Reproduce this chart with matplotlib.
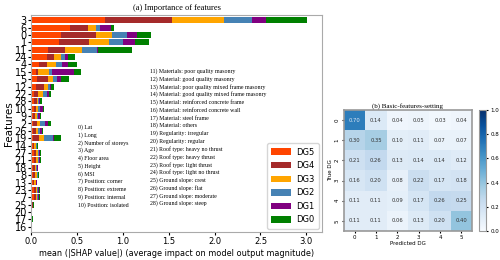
import numpy as np
import matplotlib
matplotlib.use("Agg")
import matplotlib.pyplot as plt

# feature order, top to bottom
features = ['3', '6', '0', '1', '11', '24', '4', '15', '5', '12', '22', '28', '10', '9', '2',
            '26', '19', '14', '27', '21', '18', '8', '13', '23', '7', '25', '20', '17', '16']

dg5 = [0.81, 0.43, 0.33, 0.305, 0.19, 0.17, 0.09, 0.055, 0.07, 0.057, 0.035, 0.035, 0.035, 0.025, 0.025,
       0.025, 0.02, 0.02, 0.03, 0.03, 0.025, 0.025, 0.02, 0.03, 0.03, 0.01, 0.001, 0.002, 0.002]
dg4 = [0.73, 0.19, 0.375, 0.325, 0.175, 0.08, 0.085, 0.025, 0.11, 0.08, 0.04, 0.025, 0.02, 0.02, 0.04,
       0.03, 0.07, 0.015, 0.025, 0.025, 0.015, 0.02, 0.015, 0.02, 0.02, 0.008, 0.001, 0.001, 0.001]
dg3 = [0.56, 0.09, 0.175, 0.22, 0.195, 0.075, 0.10, 0.115, 0.06, 0.05, 0.06, 0.015, 0.025, 0.02, 0.035,
       0.02, 0.055, 0.015, 0.02, 0.02, 0.015, 0.015, 0.015, 0.015, 0.015, 0.004, 0.0, 0.001, 0.001]
dg2 = [0.31, 0.04, 0.17, 0.155, 0.155, 0.05, 0.065, 0.035, 0.04, 0.015, 0.035, 0.015, 0.015, 0.015, 0.055,
       0.025, 0.09, 0.01, 0.015, 0.015, 0.01, 0.012, 0.008, 0.012, 0.012, 0.002, 0.0, 0.001, 0.003]
dg1 = [0.15, 0.12, 0.10, 0.125, 0.02, 0.025, 0.06, 0.235, 0.045, 0.02, 0.025, 0.01, 0.035, 0.02, 0.03,
       0.015, 0.02, 0.008, 0.01, 0.01, 0.007, 0.008, 0.006, 0.01, 0.01, 0.002, 0.0, 0.001, 0.001]
dg0 = [0.45, 0.03, 0.16, 0.16, 0.365, 0.075, 0.105, 0.08, 0.085, 0.03, 0.025, 0.015, 0.01, 0.01, 0.035,
       0.015, 0.075, 0.007, 0.005, 0.005, 0.005, 0.005, 0.006, 0.006, 0.006, 0.006, 0.001, 0.02, 0.001]

classes = ['DG5', 'DG4', 'DG3', 'DG2', 'DG1', 'DG0']
colors = ['#ff4500', '#a52a2a', '#ffa500', '#4682b4', '#800080', '#008000']

names_left = ['0) Lat', '1) Long', '2) Number of storeys', '3) Age', '4) Floor area', '5) Height',
              '6) MSI', '7) Position: corner', '8) Position: extreme', '9) Position: internal',
              '10) Position: isolated']
names_right = ['11) Materials: poor quality masonry', '12) Material: good quality masonry',
               '13) Material: poor quality mixed frame masonry', '14) Material: good quality mixed frame masonry',
               '15) Material: reinforced concrete frame', '16) Material: reinforced concrete wall',
               '17) Material: steel frame', '18) Material: others', '19) Regularity: irregular',
               '20) Regularity: regular', '21) Roof type: heavy no thrust', '22) Roof type: heavy thrust',
               '23) Roof type: light thrust', '24) Roof type: light no thrust', '25) Ground slope: crest',
               '26) Ground slope: flat', '27) Ground slope: moderate', '28) Ground slope: steep']

# confusion matrix (b)
conf = np.array([
    [0.70, 0.14, 0.04, 0.05, 0.03, 0.04],
    [0.30, 0.35, 0.10, 0.11, 0.07, 0.07],
    [0.21, 0.26, 0.13, 0.14, 0.14, 0.12],
    [0.16, 0.20, 0.08, 0.22, 0.17, 0.18],
    [0.11, 0.11, 0.09, 0.17, 0.26, 0.25],
    [0.11, 0.11, 0.06, 0.13, 0.20, 0.40],
])
dg_ticks = ['0', '1', '2', '3', '4', '5']

fig = plt.figure(figsize=(5, 2.6), dpi=100)

# ---- (a) stacked SHAP bars
ax = fig.add_axes([0.062, 0.108, 0.582, 0.834])
y = np.arange(len(features))
left = np.zeros(len(features))
for name, vals, c in zip(classes, [dg5, dg4, dg3, dg2, dg1, dg0], colors):
    vals = np.array(vals)
    ax.barh(y, vals, left=left, height=0.8, color=c, label=name)
    left += vals

ax.set_ylim(len(features) - 0.3, -0.7)
ax.set_xlim(0, 3.17)
ax.set_yticks(y)
ax.set_yticklabels(features, fontsize=7)
ax.tick_params(axis='y', length=2, pad=1)
ax.tick_params(axis='x', labelsize=6, length=2, pad=2)
ax.set_xticks([0, 0.5, 1.0, 1.5, 2.0, 2.5, 3.0])
ax.set_xlabel('mean (|SHAP value|) (average impact on model output magnitude)', fontsize=5.9, labelpad=2)
ax.set_ylabel('Features', fontsize=7.5, labelpad=0)
ax.set_title('(a) Importance of features', fontsize=6, family='Liberation Serif', pad=4)
for s in ax.spines.values():
    s.set_color('#aaaaaa')

leg = ax.legend(loc='lower right', fontsize=6, handlelength=2.4, handleheight=0.8,
                labelspacing=0.55, borderpad=0.5, handletextpad=0.6, borderaxespad=0.4,
                frameon=True, fancybox=True)

for i, t in enumerate(names_left):
    fig.text(0.156, 1 - (127 + i * 7.8) / 260, t, fontsize=4.2, family='Liberation Serif', va='center')
for i, t in enumerate(names_right):
    fig.text(0.300, 1 - (71 + i * 7.8) / 260, t, fontsize=4.2, family='Liberation Serif', va='center')

# ---- (b) confusion matrix
ax2 = fig.add_axes([0.688, 0.112, 0.256, 0.465])
im = ax2.imshow(conf, cmap='Blues', vmin=0, vmax=1, aspect='auto')
for i in range(conf.shape[0]):
    for j in range(conf.shape[1]):
        tc = '#dde8f5' if conf[i, j] > 0.5 else '#333333'
        ax2.text(j, i, f'{conf[i, j]:.2f}', ha='center', va='center', fontsize=3.8, color=tc)
ax2.set_xticks(range(6))
ax2.set_xticklabels(dg_ticks, fontsize=4)
ax2.set_yticks(range(6))
ax2.set_yticklabels(dg_ticks, fontsize=4, rotation=90, va='center')
ax2.tick_params(length=1.5, pad=1.5)
ax2.set_xlabel('Predicted DG', fontsize=4, labelpad=1)
ax2.set_ylabel('True DG', fontsize=4, labelpad=1)
ax2.set_title('(b) Basic-features-setting', fontsize=5, family='Liberation Serif', pad=2)
for s in ax2.spines.values():
    s.set_color('#999999')
    s.set_linewidth(1.2)

cax = fig.add_axes([0.958, 0.112, 0.014, 0.465])
cb = fig.colorbar(im, cax=cax)
cb.set_ticks([0.0, 0.2, 0.4, 0.6, 0.8, 1.0])
cb.ax.tick_params(labelsize=4, length=1.5, pad=1.5)
cb.outline.set_edgecolor('#999999')

fig.savefig('out.png', dpi=100)
plt.close(fig)
